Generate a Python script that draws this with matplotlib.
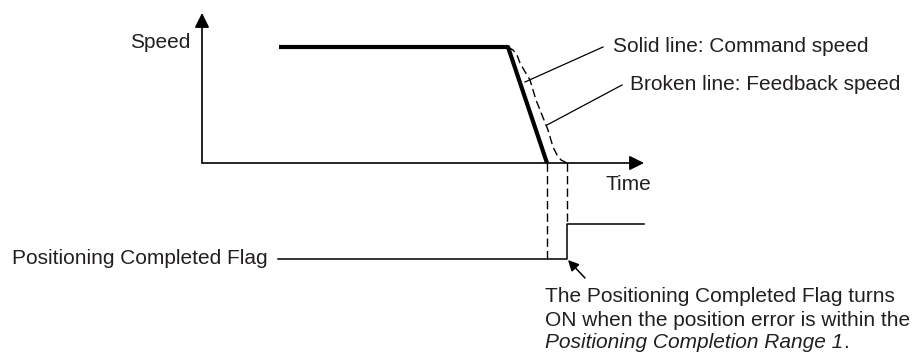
import matplotlib.pyplot as plt
import numpy as np

# time / speed units (origin of the speed axes at 0,0)
cmd_t = [77, 306, 345]
cmd_v = [116, 116, 0]

fb_t = [306, 311, 315, 318, 322, 328, 334, 340, 346, 351, 355, 359, 365]
fb_v = [116, 113, 108, 100, 93, 83, 63, 48, 33, 16, 8, 3, 0]

# positioning completed flag (low / high level)
flag_t = [76, 365, 365, 442]
flag_v = [-96, -96, -61, -61]

cmd_end_t = 345
fb_end_t = 365

fs = 15
col = '#231f20'

fig = plt.figure(figsize=(9.21, 3.54), dpi=100)
ax = fig.add_axes([0, 0, 1, 1])
ax.set_xlim(-202, 719)
ax.set_ylim(-191, 163)
ax.axis('off')
plt.rcParams['font.family'] = 'Liberation Sans'

# axes with arrows
ax.annotate('', xy=(0, 150), xytext=(0, 0),
            arrowprops=dict(arrowstyle='-|>', color='black', lw=1.2, mutation_scale=22, shrinkA=0, shrinkB=0))
ax.annotate('', xy=(442, 0), xytext=(0, 0),
            arrowprops=dict(arrowstyle='-|>', color='black', lw=1.2, mutation_scale=22, shrinkA=0, shrinkB=0))

ax.plot(cmd_t, cmd_v, color='black', lw=3.0, solid_capstyle='butt')
ax.plot(fb_t, fb_v, color='black', lw=1.0, dashes=(6, 3))

# dashed guides down to the flag
ax.plot([cmd_end_t, cmd_end_t], [0, flag_v[0]], color='black', lw=1.0, dashes=(6, 3))
ax.plot([fb_end_t, fb_end_t], [0, flag_v[2]], color='black', lw=1.0, dashes=(6, 3))

ax.plot(flag_t, flag_v, color='black', lw=1.1)

# leaders
ax.plot([401, 323], [116, 81], color='black', lw=0.9)
ax.plot([420, 345], [78, 38], color='black', lw=0.9)
ax.annotate('', xy=(366, -97), xytext=(383, -115),
            arrowprops=dict(arrowstyle='-|>', color='black', lw=1.1, mutation_scale=16, shrinkA=0, shrinkB=0))

ax.text(-12, 120, 'Speed', fontsize=fs, color=col, ha='right', va='center')
ax.text(403, -22, 'Time', fontsize=fs, color=col, ha='left', va='center')
ax.text(411, 116, 'Solid line: Command speed', fontsize=fs, color=col, ha='left', va='center')
ax.text(428, 78, 'Broken line: Feedback speed', fontsize=fs, color=col, ha='left', va='center')
ax.text(-190, -95, 'Positioning Completed Flag', fontsize=fs, color=col, ha='left', va='center')
ax.text(343, -134, 'The Positioning Completed Flag turns', fontsize=fs, color=col, ha='left', va='center')
ax.text(343, -157, 'ON when the position error is within the', fontsize=fs, color=col, ha='left', va='center')
t = ax.text(343, -179, 'Positioning Completion Range 1', fontsize=fs, color=col, ha='left', va='center', style='italic')
ax.annotate('.', xy=(1, 0.5), xycoords=t, fontsize=fs, color=col, ha='left', va='center')

plt.savefig('out.png', dpi=100)
